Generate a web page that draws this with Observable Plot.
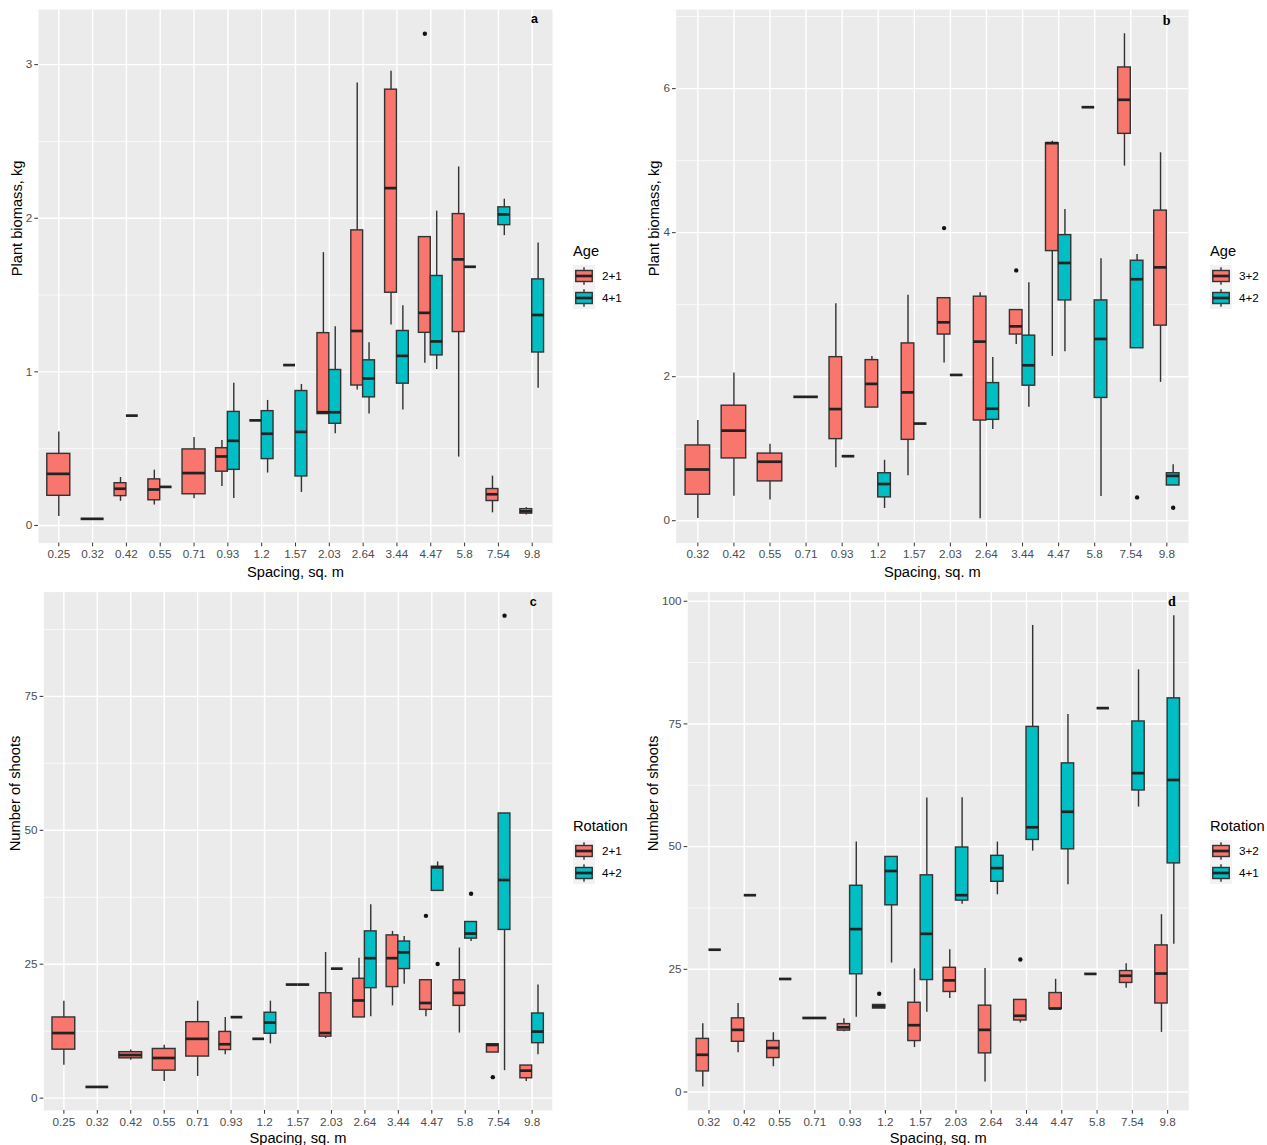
<!DOCTYPE html>
<html><head><meta charset="utf-8">
<script src="https://cdn.jsdelivr.net/npm/d3@7"></script>
<script src="https://cdn.jsdelivr.net/npm/@observablehq/plot@0.6"></script>
<style>
body{margin:0;background:#fff;font-family:"Liberation Sans",Arial,sans-serif;}
#root{position:relative;width:1267px;height:1145px;overflow:hidden;background:#fff;}
.pane{position:absolute;}
.leg{position:absolute;overflow:visible;}
#root g[aria-label$="tick label"]{font-size:11.7px;font-family:"Liberation Sans",Arial,sans-serif;}
</style></head><body><div id="root"></div>
<script>
// ---------- data ----------
const catsA = ["0.25","0.32","0.42","0.55","0.71","0.93","1.2","1.57","2.03","2.64","3.44","4.47","5.8","7.54","9.8"];
const groupsA = ["2+1","4+1"];
// [spacing, group, lower whisker, q1, median, q3, upper whisker]
const boxesA = [
 ["0.25","2+1",0.058,0.193,0.336,0.466,0.609],
 ["0.32","2+1",0.043,0.043,0.043,0.043,0.043],
 ["0.42","2+1",0.157,0.191,0.239,0.275,0.312],
 ["0.42","4+1",0.715,0.715,0.715,0.715,0.715],
 ["0.55","2+1",0.133,0.164,0.234,0.300,0.360],
 ["0.55","4+1",0.251,0.251,0.251,0.251,0.251],
 ["0.71","2+1",0.174,0.203,0.341,0.495,0.573],
 ["0.93","2+1",0.254,0.350,0.449,0.503,0.553],
 ["0.93","4+1",0.176,0.362,0.551,0.739,0.925],
 ["1.2","2+1",0.684,0.684,0.684,0.684,0.684],
 ["1.2","4+1",0.341,0.432,0.597,0.744,0.814],
 ["1.57","2+1",1.044,1.044,1.044,1.044,1.044],
 ["1.57","4+1",0.215,0.319,0.609,0.875,0.918],
 ["2.03","2+1",0.725,0.725,0.737,1.252,1.776],
 ["2.03","4+1",0.597,0.662,0.737,1.012,1.293],
 ["2.64","2+1",0.882,0.911,1.266,1.921,2.880],
 ["2.64","4+1",0.725,0.834,0.957,1.075,1.189],
 ["3.44","2+1",1.305,1.515,2.196,2.837,2.957],
 ["3.44","4+1",0.751,0.923,1.104,1.266,1.430],
 ["4.47","2+1",1.056,1.254,1.384,1.877,1.877],
 ["4.47","4+1",1.015,1.107,1.198,1.624,2.046],
 ["5.8","2+1",0.445,1.259,1.732,2.027,2.334],
 ["5.8","4+1",1.684,1.684,1.684,1.684,1.684],
 ["7.54","2+1",0.082,0.159,0.203,0.237,0.321],
 ["7.54","4+1",1.887,1.955,2.025,2.071,2.124],
 ["9.8","2+1",0.068,0.077,0.092,0.106,0.116],
 ["9.8","4+1",0.894,1.126,1.370,1.602,1.839]
];
const outliersA = [["4.47","2+1",3.201]];
const yTicksA = [0,1,2,3];
const yMinorA = [0.5,1.5,2.5];

const catsB = ["0.32","0.42","0.55","0.71","0.93","1.2","1.57","2.03","2.64","3.44","4.47","5.8","7.54","9.8"];
const groupsB = ["3+2","4+2"];
const boxesB = [
 ["0.32","3+2",0.031,0.361,0.711,1.045,1.390],
 ["0.42","3+2",0.340,0.865,1.251,1.597,2.050],
 ["0.55","3+2",0.288,0.546,0.819,0.932,1.061],
 ["0.71","3+2",1.720,1.720,1.720,1.720,1.720],
 ["0.93","3+2",0.736,1.133,1.550,2.271,3.013],
 ["0.93","4+2",0.896,0.896,0.896,0.896,0.896],
 ["1.2","3+2",1.571,1.571,1.900,2.230,2.282],
 ["1.2","4+2",0.170,0.324,0.510,0.659,0.839],
 ["1.57","3+2",0.623,1.123,1.782,2.462,3.131],
 ["1.57","4+2",1.349,1.349,1.349,1.349,1.349],
 ["2.03","3+2",2.189,2.585,2.755,3.090,3.090],
 ["2.03","4+2",2.024,2.024,2.024,2.024,2.024],
 ["2.64","3+2",0.026,1.391,2.487,3.111,3.167],
 ["2.64","4+2",1.267,1.401,1.555,1.911,2.266],
 ["3.44","3+2",2.446,2.585,2.699,2.925,2.925],
 ["3.44","4+2",1.576,1.875,2.158,2.570,3.306],
 ["4.47","3+2",2.282,3.744,5.243,5.243,5.269],
 ["4.47","4+2",2.348,3.059,3.579,3.966,4.321],
 ["5.8","3+2",5.742,5.742,5.742,5.742,5.742],
 ["5.8","4+2",0.335,1.705,2.524,3.059,3.636],
 ["7.54","3+2",4.924,5.372,5.845,6.294,6.762],
 ["7.54","4+2",2.395,2.395,3.353,3.610,3.698],
 ["9.8","3+2",1.921,2.709,3.518,4.306,5.109],
 ["9.8","4+2",0.489,0.489,0.623,0.659,0.778]
];
const outliersB = [["2.03","3+2",4.063],["3.44","3+2",3.476],["7.54","4+2",0.324],["9.8","4+2",0.180]];
const yTicksB = [0,2,4,6];
const yMinorB = [1,3,5,7];

const catsC = ["0.25","0.32","0.42","0.55","0.71","0.93","1.2","1.57","2.03","2.64","3.44","4.47","5.8","7.54","9.8"];
const groupsC = ["2+1","4+2"];
const boxesC = [
 ["0.25","2+1",6.14,9.05,12.15,15.06,18.1],
 ["0.32","2+1",2.09,2.09,2.09,2.09,2.09],
 ["0.42","2+1",7.09,7.43,8.04,8.58,8.98],
 ["0.55","2+1",3.1,5.13,7.49,9.18,9.86],
 ["0.71","2+1",4.05,7.76,11.07,14.18,18.1],
 ["0.93","2+1",8.1,8.98,10.06,12.36,15.06],
 ["0.93","4+2",15.12,15.12,15.12,15.12,15.12],
 ["1.2","2+1",11.07,11.07,11.07,11.07,11.07],
 ["1.2","4+2",10.13,12.02,14.11,15.94,18.1],
 ["1.57","2+1",21.2,21.2,21.2,21.2,21.2],
 ["1.57","4+2",21.2,21.2,21.2,21.2,21.2],
 ["2.03","2+1",11.14,11.48,12.15,19.58,27.2],
 ["2.03","4+2",24.17,24.17,24.17,24.17,24.17],
 ["2.64","2+1",15.06,15.06,18.23,22.28,26.13],
 ["2.64","4+2",15.19,20.53,26.13,31.13,36.12],
 ["3.44","2+1",17.22,20.73,26.13,30.38,31.13],
 ["3.44","4+2",21.27,24.1,27.21,29.24,30.18],
 ["4.47","2+1",15.19,16.48,17.76,22.01,22.01],
 ["4.47","4+2",38.69,38.69,43.08,43.21,44.09],
 ["5.8","2+1",12.15,17.22,19.65,22.01,28.02],
 ["5.8","4+2",29.24,29.78,30.72,32.88,32.88],
 ["7.54","2+1",8.51,8.51,9.93,10.06,10.06],
 ["7.54","4+2",5.13,31.4,40.72,53.14,53.14],
 ["9.8","2+1",3.1,3.71,5.13,6.08,6.08],
 ["9.8","4+2",8.1,10.26,12.42,15.8,21.13]
];
const outliersC = [["4.47","2+1",34.03],["4.47","4+2",25.05],["5.8","4+2",38.15],["7.54","2+1",3.92],["7.54","4+2",90.07]];
const yTicksC = [0,25,50,75];
const yMinorC = [12.5,37.5,62.5,87.5];

const catsD = ["0.32","0.42","0.55","0.71","0.93","1.2","1.57","2.03","2.64","3.44","4.47","5.8","7.54","9.8"];
const groupsD = ["3+2","4+1"];
const boxesD = [
 ["0.32","3+2",1.03,4.19,7.58,10.82,13.9],
 ["0.32","4+1",28.99,28.99,28.99,28.99,28.99],
 ["0.42","3+2",8.02,10.23,12.66,15.01,18.03],
 ["0.42","4+1",40.1,40.1,40.1,40.1,40.1],
 ["0.55","3+2",5.15,6.92,8.98,10.38,12.07],
 ["0.55","4+1",23.03,23.03,23.03,23.03,23.03],
 ["0.71","3+2",15.08,15.08,15.08,15.08,15.08],
 ["0.93","3+2",12.29,12.51,13.17,13.83,14.94],
 ["0.93","4+1",15.23,23.99,33.19,42.02,50.92],
 ["1.2","3+2",17.0,17.0,17.44,17.73,17.73],
 ["1.2","4+1",26.27,38.04,45.03,47.9,47.9],
 ["1.57","3+2",9.05,10.38,13.61,18.18,25.09],
 ["1.57","4+1",16.26,22.81,32.23,44.15,59.9],
 ["2.03","3+2",19.06,20.38,22.74,25.31,28.99],
 ["2.03","4+1",38.26,39.0,40.1,49.82,59.97],
 ["2.64","3+2",2.06,7.87,12.66,17.59,25.17],
 ["2.64","4+1",40.18,42.83,45.62,48.12,50.92],
 ["3.44","3+2",14.05,14.57,15.53,18.76,18.76],
 ["3.44","4+1",49.08,51.36,53.94,74.39,95.07],
 ["4.47","3+2",16.92,16.92,17.0,20.16,22.96],
 ["4.47","4+1",42.24,49.45,57.1,66.96,76.9],
 ["5.8","3+2",24.06,24.06,24.06,24.06,24.06],
 ["5.8","4+1",78.22,78.22,78.22,78.22,78.22],
 ["7.54","3+2",21.12,22.22,23.69,24.65,26.12],
 ["7.54","4+1",58.06,61.44,64.97,75.5,86.02],
 ["9.8","3+2",12.14,18.03,24.14,29.87,36.13],
 ["9.8","4+1",30.1,46.58,63.58,80.21,97.06]
];
const outliersD = [["1.2","3+2",20.01],["3.44","3+2",27.0]];
const yTicksD = [0,25,50,75,100];
const yMinorD = [12.5,37.5,62.5,87.5];

const fills = ["#F8766D","#00BFC4"];
const FONT = "Liberation Sans, Arial, sans-serif";
const root = document.getElementById("root");

function drawPanel(cfg) {
  const {cats, groups, boxes, outliers, yTicks, yMinor, ylabel, letter, letterFont, letterSize,
         box, frame, ylabDx, xlabDy, letterDx, letterDy, legendX, legendTitle} = cfg;
  const idx = new Map(cats.map((c, i) => [c, i + 1]));
  const count = d3.rollup(boxes, v => v.length, d => d[0]);
  const half = 0.35, single = 0.34;
  const rows = boxes.map(([s, g, lo, q1, med, q3, hi]) => {
    const i = idx.get(s);
    let x1, x2;
    if (count.get(s) === 1) { x1 = i - single; x2 = i + single; }
    else if (groups.indexOf(g) === 0) { x1 = i - half; x2 = i; }
    else { x1 = i; x2 = i + half; }
    return {s, g, lo, q1, med, q3, hi, x1, x2, xc: (x1 + x2) / 2};
  });
  const outs = outliers.map(([s, g, v]) => {
    const r = rows.find(d => d.s === s && d.g === g);
    return {xc: r.xc, v};
  });
  // y-domain as in ggplot: data range expanded by 5%
  const allVals = boxes.flatMap(d => d.slice(2)).concat(outliers.map(d => d[2]));
  const ymin = d3.min(allVals), ymax = d3.max(allVals), pad = (ymax - ymin) * 0.05;
  const xt = d3.range(1, cats.length + 1);
  const svg = Plot.plot({
    width: box.w, height: box.h,
    marginLeft: frame.l - box.left, marginRight: box.left + box.w - frame.r,
    marginTop: frame.t - box.top, marginBottom: box.top + box.h - frame.b,
    style: {fontFamily: FONT, fontSize: "11.7px", background: "transparent", overflow: "visible"},
    x: {domain: [0.4, cats.length + 0.6]},
    y: {domain: [ymin - pad, ymax + pad]},
    color: {domain: groups, range: fills},
    marks: [
      Plot.frame({fill: "#EBEBEB", stroke: "none"}),
      Plot.gridY(yMinor, {stroke: "white", strokeOpacity: 1, strokeWidth: 0.71}),
      Plot.gridY(yTicks, {stroke: "white", strokeOpacity: 1, strokeWidth: 1.42}),
      Plot.gridX(xt, {stroke: "white", strokeOpacity: 1, strokeWidth: 1.42}),
      Plot.axisY(yTicks, {label: null, tickFormat: d => String(d), tickSize: 3.7, tickPadding: 2.5, fill: "#4D4D4D", stroke: "#333333", fontSize: 11.7}),
      Plot.axisX(xt, {label: null, tickFormat: i => cats[i - 1], tickSize: 3.7, tickPadding: 3, fill: "#4D4D4D", stroke: "#333333", fontSize: 11.7}),
      Plot.ruleX(rows, {x: "xc", y1: "q3", y2: "hi", stroke: "#333333", strokeWidth: 1.42}),
      Plot.ruleX(rows, {x: "xc", y1: "lo", y2: "q1", stroke: "#333333", strokeWidth: 1.42}),
      Plot.rect(rows, {x1: "x1", x2: "x2", y1: "q1", y2: "q3", fill: "g", stroke: "#333333", strokeWidth: 1.42}),
      Plot.ruleY(rows, {y: "med", x1: "x1", x2: "x2", stroke: "#222222", strokeWidth: 2.7}),
      Plot.dot(outs, {x: "xc", y: "v", r: 2.2, fill: "#111111", stroke: "none"}),
      Plot.text([letter], {text: d => d, frameAnchor: "top-right", lineAnchor: "middle", dx: letterDx, dy: letterDy, fontWeight: "bold", fontSize: letterSize, fontFamily: letterFont, fill: "black"}),
      Plot.text([ylabel], {text: d => d, frameAnchor: "left", lineAnchor: "middle", rotate: -90, dx: ylabDx, fontSize: 14.67, fill: "black"}),
      Plot.text(["Spacing, sq. m"], {text: d => d, frameAnchor: "bottom", lineAnchor: "middle", dy: xlabDy, fontSize: 14.67, fill: "black"})
    ]
  });
  const wrap = document.createElement("div");
  wrap.className = "pane";
  wrap.style.left = box.left + "px";
  wrap.style.top = box.top + "px";
  wrap.appendChild(svg);
  root.appendChild(wrap);

  // legend (ggplot-style boxplot keys)
  const mid = (frame.t + frame.b) / 2;
  const keyTop = mid - 10.8;
  const ns = "http://www.w3.org/2000/svg";
  const lg = document.createElementNS(ns, "svg");
  lg.setAttribute("class", "leg");
  lg.setAttribute("width", 90); lg.setAttribute("height", 80);
  lg.style.left = legendX + "px";
  lg.style.top = (keyTop - 25) + "px";
  const mk = (tag, attrs, txt) => {
    const e = document.createElementNS(ns, tag);
    for (const k in attrs) e.setAttribute(k, attrs[k]);
    if (txt) e.textContent = txt;
    lg.appendChild(e);
    return e;
  };
  mk("text", {x: 0, y: 16, "font-family": FONT, "font-size": 14.67, fill: "black"}, legendTitle);
  groups.forEach((g, k) => {
    const y0 = 25 + k * 22;
    mk("rect", {x: 0, y: y0, width: 22, height: 22, fill: "#F2F2F2"});
    mk("line", {x1: 11, x2: 11, y1: y0 + 2.2, y2: y0 + 19.8, stroke: "#333333", "stroke-width": 1.42});
    mk("rect", {x: 2.75, y: y0 + 5.5, width: 16.5, height: 11, fill: fills[k], stroke: "#333333", "stroke-width": 1.42});
    mk("line", {x1: 2.75, x2: 19.25, y1: y0 + 11, y2: y0 + 11, stroke: "#222222", "stroke-width": 2.7});
    mk("text", {x: 29, y: y0 + 15.2, "font-family": FONT, "font-size": 11.7, fill: "black"}, g);
  });
  root.appendChild(lg);
}

drawPanel({cats: catsA, groups: groupsA, boxes: boxesA, outliers: outliersA, yTicks: yTicksA, yMinor: yMinorA,
  ylabel: "Plant biomass, kg", letter: "a", letterFont: FONT, letterSize: 12.5,
  box: {left: 0, top: 0, w: 630, h: 585}, frame: {l: 38, r: 552, t: 9, b: 542.6},
  ylabDx: -21.5, xlabDy: 29.5, letterDx: -14.5, letterDy: 9.5, legendX: 573, legendTitle: "Age"});
drawPanel({cats: catsB, groups: groupsB, boxes: boxesB, outliers: outliersB, yTicks: yTicksB, yMinor: yMinorB,
  ylabel: "Plant biomass, kg", letter: "b", letterFont: "Liberation Serif, serif", letterSize: 14,
  box: {left: 637, top: 0, w: 630, h: 585}, frame: {l: 675.7, r: 1188, t: 9, b: 542.6},
  ylabDx: -22.4, xlabDy: 29.5, letterDx: -18, letterDy: 11, legendX: 1210, legendTitle: "Age"});
drawPanel({cats: catsC, groups: groupsC, boxes: boxesC, outliers: outliersC, yTicks: yTicksC, yMinor: yMinorC,
  ylabel: "Number of shoots", letter: "c", letterFont: FONT, letterSize: 12.5,
  box: {left: 0, top: 585, w: 630, h: 560}, frame: {l: 43.3, r: 551.7, t: 591.6, b: 1110},
  ylabDx: -29, xlabDy: 28, letterDx: -15.4, letterDy: 9.4, legendX: 573, legendTitle: "Rotation"});
drawPanel({cats: catsD, groups: groupsD, boxes: boxesD, outliers: outliersD, yTicks: yTicksD, yMinor: yMinorD,
  ylabel: "Number of shoots", letter: "d", letterFont: "Liberation Serif, serif", letterSize: 14,
  box: {left: 637, top: 585, w: 630, h: 560}, frame: {l: 687.3, r: 1188.3, t: 591.6, b: 1110},
  ylabDx: -35, xlabDy: 28, letterDx: -13, letterDy: 9, legendX: 1209.5, legendTitle: "Rotation"});
</script></body></html>
